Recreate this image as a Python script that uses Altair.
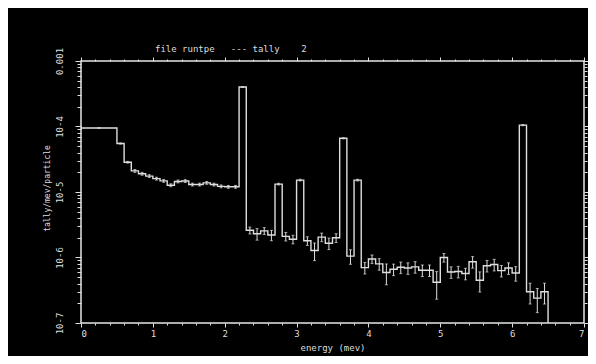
import altair as alt
import pandas as pd

# ---------------- data ----------------
bin_edges = [0.0, 0.5, 0.6, 0.7, 0.8, 0.9, 1.0, 1.1, 1.2, 1.3, 1.4, 1.5, 1.6, 1.7, 1.8, 1.9, 2.0,
             2.1, 2.2, 2.3, 2.4, 2.5, 2.6, 2.7, 2.8, 2.9, 3.0, 3.1, 3.2, 3.3, 3.4, 3.5, 3.6, 3.7,
             3.8, 3.9, 4.0, 4.1, 4.2, 4.3, 4.4, 4.5, 4.6, 4.7, 4.8, 4.9, 5.0, 5.1, 5.2, 5.3, 5.4,
             5.5, 5.6, 5.7, 5.8, 5.9, 6.0, 6.1, 6.2, 6.3, 6.4, 6.5]

tally = [
    9.5e-5,
    5.5e-5, 2.85e-5, 2.1e-5, 1.9e-5, 1.75e-5, 1.6e-5, 1.48e-5, 1.27e-5, 1.45e-5, 1.47e-5,
    1.3e-5, 1.3e-5, 1.38e-5, 1.3e-5, 1.22e-5, 1.2e-5, 1.2e-5,
    4.0e-4,
    2.6e-6, 2.3e-6, 2.55e-6, 2.2e-6,
    1.32e-5,
    2.1e-6, 1.9e-6,
    1.52e-5,
    1.8e-6, 1.28e-6, 2.05e-6, 1.65e-6, 2.0e-6,
    6.6e-5,
    1.05e-6,
    1.52e-5,
    7.0e-7, 9.5e-7, 8.0e-7, 5.9e-7, 6.6e-7, 7.1e-7, 6.9e-7, 7.2e-7, 6.4e-7, 6.4e-7,
    4.2e-7, 1.0e-6, 6.0e-7, 6.1e-7, 5.7e-7, 8.6e-7, 4.5e-7, 7.5e-7, 7.8e-7, 6.3e-7,
    6.9e-7, 5.8e-7,
    1.05e-4,
    3.0e-7, 2.4e-7, 3.0e-7,
]

rel_err = [
    0.01,
    0.02, 0.03, 0.05, 0.05, 0.05, 0.05, 0.05, 0.05, 0.05, 0.05,
    0.05, 0.05, 0.05, 0.05, 0.05, 0.05, 0.05,
    0.01,
    0.12, 0.2, 0.12, 0.18,
    0.03,
    0.15, 0.15,
    0.03,
    0.15, 0.3, 0.15, 0.2, 0.15,
    0.02,
    0.25,
    0.03,
    0.2, 0.15, 0.2, 0.35, 0.2, 0.2, 0.2, 0.2, 0.2, 0.2,
    0.45, 0.15, 0.2, 0.2, 0.2, 0.2, 0.34, 0.2, 0.2, 0.2,
    0.2, 0.25,
    0.02,
    0.35, 0.4, 0.35,
]

x_domain = [0, 7]
y_domain = [1e-7, 1e-3]
x_major = [0, 1, 2, 3, 4, 5, 6, 7]
x_minor = [0.2, 0.4, 0.6, 0.8, 1.2, 1.4, 1.6, 1.8, 2.2, 2.4, 2.6, 2.8, 3.2, 3.4, 3.6, 3.8,
           4.2, 4.4, 4.6, 4.8, 5.2, 5.4, 5.6, 5.8, 6.2, 6.4, 6.6, 6.8]
y_major = [1e-7, 1e-6, 1e-5, 1e-4, 1e-3]
y_major_labels = ["10-7", "10-6", "10-5", "10-4", "0.001"]
y_minor = [m * d for d in [1e-7, 1e-6, 1e-5, 1e-4] for m in [2, 3, 4, 5, 6, 7, 8, 9]]

title_text = "file runtpe\u00a0\u00a0\u00a0---\u00a0tally\u00a0\u00a0\u00a0\u00a02"
x_title = "energy (mev)"
y_title = "tally/mev/particle"

# ---------------- layout / style ----------------
W, H = 503, 262
PAD_L, PAD_T = 73, 53
TOTAL_W, TOTAL_H = 580, 348
FG = "#dedede"
FONT = "DejaVu Sans Mono"

# ---------------- tables ----------------
step_rows = []
for k, v in enumerate(tally):
    step_rows.append({"e": bin_edges[k], "v": v, "o": 2 * k})
    step_rows.append({"e": bin_edges[k + 1], "v": v, "o": 2 * k + 1})
step_rows.append({"e": bin_edges[-1], "v": y_domain[0], "o": 2 * len(tally)})
step_df = pd.DataFrame(step_rows)

err_df = pd.DataFrame({
    "e": [(bin_edges[k] + bin_edges[k + 1]) / 2 for k in range(len(tally))],
    "v": [v * (1 - r) for v, r in zip(tally, rel_err)],
    "hi": [v * (1 + r) for v, r in zip(tally, rel_err)],
})
cap_df = pd.concat([
    err_df[["e", "v"]],
    err_df[["e", "hi"]].rename(columns={"hi": "v"}),
])

xs = alt.Scale(domain=x_domain, nice=False, zero=False)
ys = alt.Scale(type="log", domain=y_domain, nice=False)

y_label_expr = " : ".join(
    [f"abs(log(datum.value)/LN10 - ({i}))<0.01 ? '{lab}'" for i, lab in
     zip([-7, -6, -5, -4, -3], y_major_labels)]
) + " : ''"
x_label_expr = "abs(datum.value - round(datum.value)) < 0.001 ? format(datum.value, 'd') : ''"

x_ticks_all = sorted(x_major + x_minor)
y_ticks_all = sorted(y_major + y_minor)
x_major_test = "abs(datum.value - round(datum.value)) < 0.001"
y_major_test = " || ".join(
    [f"abs(log(datum.value)/LN10 - ({i}))<0.01" for i in [-7, -6, -5, -4, -3]])

tick_common = dict(domain=False, grid=False, tickColor=FG, tickWidth=1)

X_BOTTOM = alt.Axis(
    orient="bottom", values=x_ticks_all, labelExpr=x_label_expr,
    tickSize={"condition": {"test": x_major_test, "value": 4}, "value": 2},
    labelColor=FG, labelFont=FONT, labelFontSize=9, labelPadding=2,
    title=x_title, titleColor=FG, titleFont=FONT, titleFontSize=9,
    titleFontWeight="normal", titleY=24, titleBaseline="middle", **tick_common)
Y_LEFT = alt.Axis(
    orient="left", values=y_ticks_all, labelExpr=y_label_expr,
    tickSize={"condition": {"test": y_major_test, "value": 6}, "value": 4},
    labelAngle=270, labelAlign="center", labelBaseline="bottom", labelPadding=11,
    labelColor=FG, labelFont=FONT, labelFontSize=9,
    title=y_title, titleColor=FG, titleFont=FONT, titleFontSize=8,
    titleFontWeight="normal", titleAngle=270, titleX=-34, titleY=H / 2 - 4,
    titleAlign="center", titleBaseline="middle", **tick_common)
X_TOP = alt.Axis(
    orient="top", values=x_ticks_all, labels=False, title=None,
    tickSize={"condition": {"test": x_major_test, "value": 4}, "value": 2}, **tick_common)
Y_RIGHT = alt.Axis(
    orient="right", values=y_ticks_all, labels=False, title=None,
    tickSize={"condition": {"test": y_major_test, "value": 5}, "value": 3}, **tick_common)

line = alt.Chart(step_df).mark_line(color=FG, strokeWidth=1.4, clip=True, interpolate="linear").encode(
    x=alt.X("e:Q", scale=xs, axis=X_BOTTOM),
    y=alt.Y("v:Q", scale=ys, axis=Y_LEFT),
    order="o:Q",
)

bars = alt.Chart(err_df).mark_rule(color=FG, strokeWidth=1).encode(
    x=alt.X("e:Q", scale=xs, axis=X_TOP),
    y=alt.Y("v:Q", scale=ys, axis=Y_RIGHT),
    y2="hi:Q",
)
caps = alt.Chart(cap_df).mark_tick(color=FG, orient="horizontal", size=3, thickness=1).encode(
    x=alt.X("e:Q", scale=xs, axis=None),
    y=alt.Y("v:Q", scale=ys, axis=None),
)

title = alt.Chart(pd.DataFrame({"t": [title_text]})).mark_text(
    color=FG, font=FONT, fontSize=9, align="left", baseline="middle"
).encode(text="t:N", x=alt.value(74), y=alt.value(-12))

chart = alt.layer(line, bars, caps, title).resolve_axis(
    x="independent", y="independent"
).properties(
    width=W, height=H,
    padding={"left": PAD_L, "top": PAD_T, "right": TOTAL_W - PAD_L - W, "bottom": TOTAL_H - PAD_T - H},
    autosize=alt.AutoSizeParams(type="none"),
    background="#000000",
).configure_view(stroke="#e6e6e6", strokeWidth=1.5, fill="#000000")

chart.save("out.html", embed_options={"renderer": "svg", "actions": False})
